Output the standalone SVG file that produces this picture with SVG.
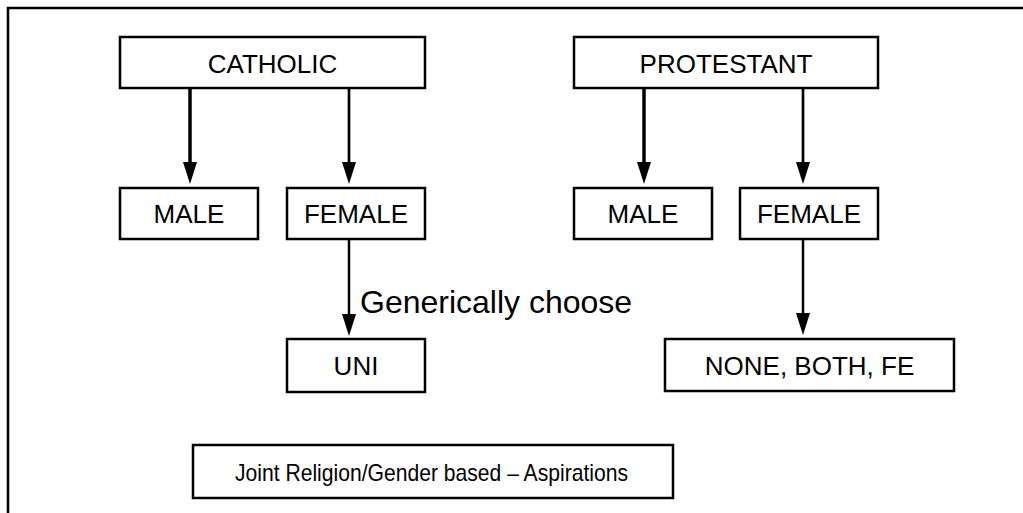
<svg xmlns="http://www.w3.org/2000/svg" width="1023" height="513" viewBox="0 0 1023 513">
<defs>
<marker id="ah" markerUnits="userSpaceOnUse" markerWidth="24" markerHeight="16" refX="0" refY="7" orient="auto" viewBox="0 0 24 14" overflow="visible">
<path d="M0,0 L22,7 L0,14 z" fill="#000"/>
</marker>
<style>
.box{fill:#fff;stroke:#000;stroke-width:2.5}
.lbl{font-family:"Liberation Sans",Arial,sans-serif;font-size:26px;fill:#000;text-anchor:middle}
.edge{stroke:#000;fill:none;marker-end:url(#ah)}
</style>
</defs>
<rect x="8" y="8" width="1100" height="600" fill="#fff" stroke="#000" stroke-width="2.5"/>
<g id="catholic"><rect class="box" x="120" y="37" width="305" height="51"/><text class="lbl" x="272.5" y="72.5">CATHOLIC</text></g>
<g id="c-male"><rect class="box" x="120" y="188" width="138" height="51"/><text class="lbl" x="189" y="222.5">MALE</text></g>
<g id="c-female"><rect class="box" x="287" y="188" width="138" height="51"/><text class="lbl" x="356" y="222.5">FEMALE</text></g>
<g id="uni"><rect class="box" x="287" y="339" width="138" height="53"/><text class="lbl" x="356" y="375">UNI</text></g>
<g id="protestant"><rect class="box" x="574" y="37" width="304" height="51"/><text class="lbl" x="726" y="72.5">PROTESTANT</text></g>
<g id="p-male"><rect class="box" x="574" y="188" width="138" height="51"/><text class="lbl" x="643" y="222.5">MALE</text></g>
<g id="p-female"><rect class="box" x="740" y="188" width="138" height="51"/><text class="lbl" x="809" y="222.5">FEMALE</text></g>
<g id="none-both-fe"><rect class="box" x="665" y="339" width="289" height="52"/><text class="lbl" x="809.5" y="374.5">NONE, BOTH, FE</text></g>
<g id="joint"><rect class="box" x="193" y="445" width="480" height="53"/><text x="431.5" y="481" font-family="'Liberation Sans',Arial,sans-serif" font-size="24" text-anchor="middle" textLength="393" lengthAdjust="spacingAndGlyphs">Joint Religion/Gender based – Aspirations</text></g>
<g id="connectors">
<path class="edge" d="M190,88 V162" stroke-width="3.5"/>
<path class="edge" d="M349,88 V162" stroke-width="2.7"/>
<path class="edge" d="M644,88 V162" stroke-width="3.5"/>
<path class="edge" d="M803,88 V162" stroke-width="2.7"/>
<path class="edge" d="M349,239 V314" stroke-width="2.5"/>
<path class="edge" d="M803,239 V313" stroke-width="2.5"/>
<text x="360" y="313" font-family="'Liberation Sans',Arial,sans-serif" font-size="32" fill="#000">Generically choose</text>
</g>
</svg>
